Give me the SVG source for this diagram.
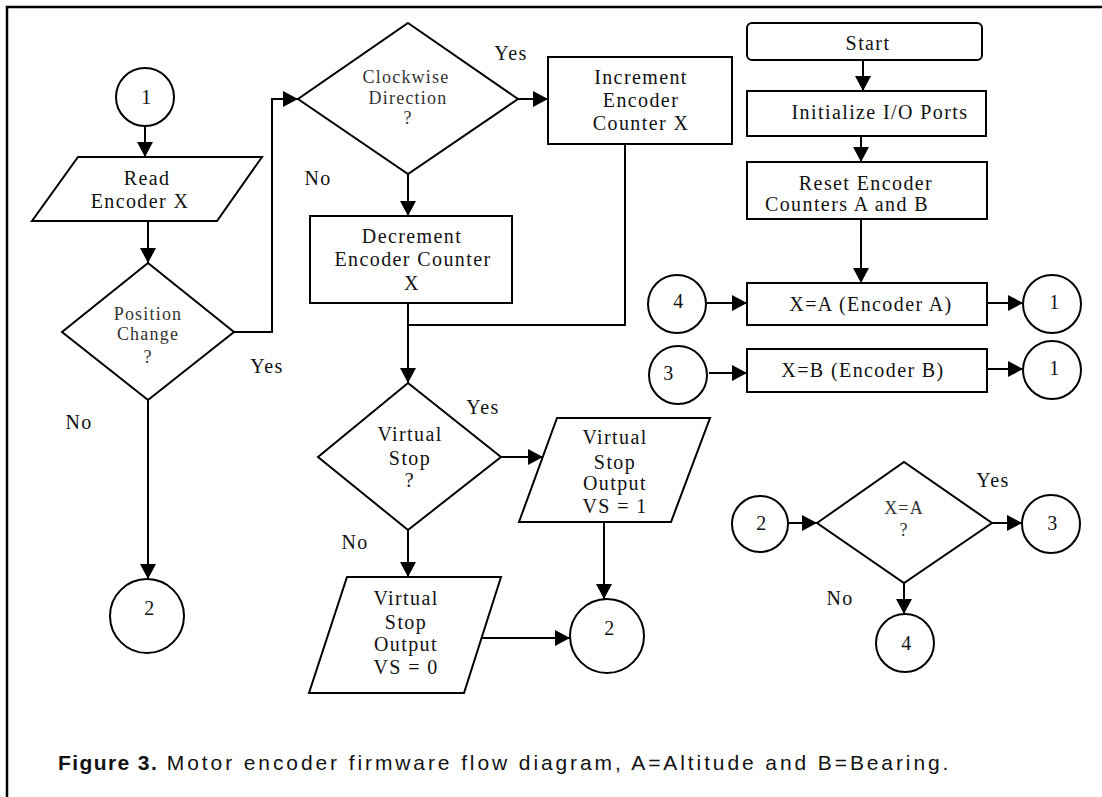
<svg xmlns="http://www.w3.org/2000/svg" width="1102" height="797" viewBox="0 0 1102 797">
<style>
.s{fill:none;stroke:#000;stroke-width:2}
.n{fill:#fff;stroke:#000;stroke-width:2}
.t{font-family:"Liberation Serif","Times New Roman",serif;font-size:20px;letter-spacing:1.4px;fill:#111;text-anchor:middle}
.d{font-family:"Liberation Serif","Times New Roman",serif;font-size:18px;letter-spacing:1.2px;fill:#333;text-anchor:middle}
.cap{font-family:"Liberation Sans",Arial,sans-serif;font-size:21px;letter-spacing:2.9px;fill:#111}
</style>
<defs>
<marker id="ah" markerUnits="userSpaceOnUse" markerWidth="15" markerHeight="16" refX="15" refY="8" orient="auto">
<path d="M0,0 L15,8 L0,16 z" fill="#000"/>
</marker>
</defs>
<rect width="1102" height="797" fill="#fff"/>
<path d="M7,797 V7 H1102" fill="none" stroke="#000" stroke-width="2.5"/>

<g id="connectors" class="s" marker-end="url(#ah)">
<path d="M145,126 V157"/>
<path d="M148,221 V263"/>
<path d="M234,332 H272 V99 H298"/>
<path d="M518,99 H548"/>
<path d="M408,174 V216"/>
<path d="M408,303 V383"/>
<path d="M625,144 V325 H408" marker-end="none"/>
<path d="M148,400 V579"/>
<path d="M501,457 H543"/>
<path d="M408,530 V577"/>
<path d="M604,522 V599"/>
<path d="M482,638 H570"/>
<path d="M863,60 V91"/>
<path d="M861,136 V162"/>
<path d="M861,219 V283"/>
<path d="M706,303 H747"/>
<path d="M987,303 H1023"/>
<path d="M709,373 H747"/>
<path d="M987,369 H1023"/>
<path d="M789,523 H817"/>
<path d="M992,523 H1022"/>
<path d="M904,583 V614"/>
</g>

<g id="labels">
<text class="t" x="267" y="373">Yes</text>
<text class="t" x="79" y="429">No</text>
<text class="t" x="511" y="60">Yes</text>
<text class="t" x="318" y="185">No</text>
<text class="t" x="483" y="414">Yes</text>
<text class="t" x="355" y="549">No</text>
<text class="t" x="993" y="487">Yes</text>
<text class="t" x="840" y="605">No</text>
</g>

<g id="c1top"><circle class="n" cx="145" cy="97" r="29"/><text class="t" x="147" y="104">1</text></g>
<g id="read"><path class="n" d="M78,157 H262 L217,221 H32 Z"/><text class="t" x="147" y="185">Read</text><text class="t" x="140" y="208">Encoder X</text></g>
<g id="position"><path class="n" d="M148,263 L234,332 L148,400 L62,332 Z"/><text class="d" x="148" y="320">Position</text><text class="d" x="148" y="340">Change</text><text class="d" x="148" y="363">?</text></g>
<g id="clockwise"><path class="n" d="M408,23 L518,99 L408,174 L298,99 Z"/><text class="d" x="406" y="83">Clockwise</text><text class="d" x="408" y="104">Direction</text><text class="d" x="408" y="124">?</text></g>
<g id="increment"><rect class="n" x="548" y="57" width="184" height="87"/><text class="t" x="641" y="84">Increment</text><text class="t" x="641" y="107">Encoder</text><text class="t" x="641" y="130">Counter X</text></g>
<g id="decrement"><rect class="n" x="310" y="216" width="202" height="87"/><text class="t" x="412" y="243">Decrement</text><text class="t" x="413" y="266">Encoder Counter</text><text class="t" x="412" y="290">X</text></g>
<g id="vstop"><path class="n" d="M408,383 L501,457 L408,530 L318,457 Z"/><text class="t" x="410" y="441">Virtual</text><text class="t" x="410" y="465">Stop</text><text class="t" x="410" y="487">?</text></g>
<g id="vs1"><path class="n" d="M557,418 H710 L671,522 H519 Z"/><text class="t" x="615" y="444">Virtual</text><text class="t" x="615" y="469">Stop</text><text class="t" x="615" y="490">Output</text><text class="t" x="615" y="513">VS = 1</text></g>
<g id="vs0"><path class="n" d="M347,577 H501 L464,693 H309 Z"/><text class="t" x="406" y="605">Virtual</text><text class="t" x="406" y="629">Stop</text><text class="t" x="406" y="651">Output</text><text class="t" x="406" y="674">VS = 0</text></g>
<g id="c2left"><circle class="n" cx="147" cy="616" r="37"/><text class="t" x="150" y="615">2</text></g>
<g id="c2mid"><circle class="n" cx="607" cy="636" r="37"/><text class="t" x="610" y="635">2</text></g>
<g id="start"><rect class="n" x="747" y="23" width="235" height="37" rx="5"/><text class="t" x="868" y="50">Start</text></g>
<g id="init"><rect class="n" x="747" y="91" width="239" height="45"/><text class="t" x="880" y="119">Initialize I/O Ports</text></g>
<g id="reset"><rect class="n" x="747" y="162" width="240" height="57"/><text class="t" x="866" y="190">Reset Encoder</text><text class="t" x="847" y="211">Counters A and B</text></g>
<g id="xa"><rect class="n" x="747" y="283" width="240" height="42"/><text class="t" x="871" y="311">X=A (Encoder A)</text></g>
<g id="xb"><rect class="n" x="747" y="349" width="240" height="43"/><text class="t" x="863" y="377">X=B (Encoder B)</text></g>
<g id="c4a"><circle class="n" cx="677" cy="304" r="29"/><text class="t" x="679" y="308">4</text></g>
<g id="c1a"><circle class="n" cx="1052" cy="304" r="29"/><text class="t" x="1055" y="309">1</text></g>
<g id="c3a"><circle class="n" cx="678" cy="375" r="29"/><text class="t" x="669" y="380">3</text></g>
<g id="c1b"><circle class="n" cx="1052" cy="370" r="29"/><text class="t" x="1055" y="375">1</text></g>
<g id="c2right"><circle class="n" cx="760" cy="524" r="28"/><text class="t" x="762" y="530">2</text></g>
<g id="xaq"><path class="n" d="M817,523 L904,462 L992,523 L904,583 Z"/><text class="d" x="904" y="514">X=A</text><text class="d" x="904" y="536">?</text></g>
<g id="c3b"><circle class="n" cx="1051" cy="524" r="29"/><text class="t" x="1053" y="530">3</text></g>
<g id="c4b"><circle class="n" cx="905" cy="643" r="29"/><text class="t" x="907" y="650">4</text></g>

<text class="cap" x="58" y="770"><tspan font-weight="bold" letter-spacing="1.4px">Figure 3.</tspan> Motor encoder firmware flow diagram, A=Altitude and B=Bearing.</text>
</svg>
